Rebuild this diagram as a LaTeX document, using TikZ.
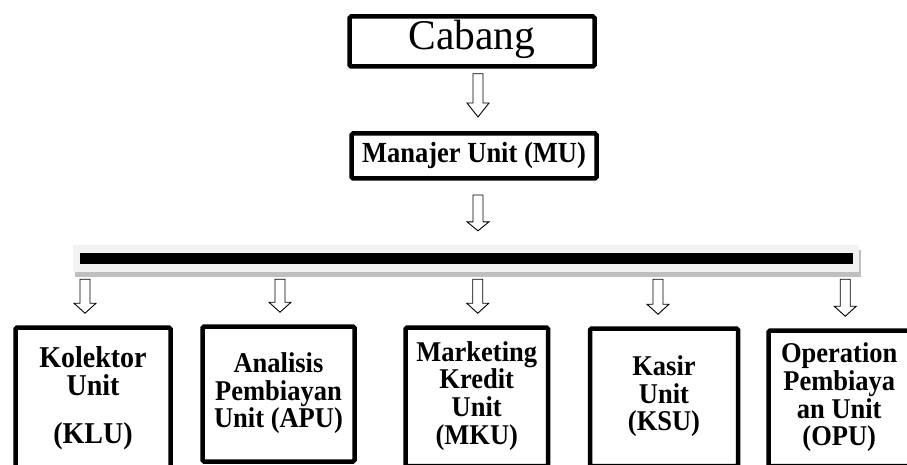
\documentclass[tikz,border=0pt]{standalone}
\usepackage{fontspec}
\usepackage{graphicx}
\setmainfont{Liberation Serif}
\usetikzlibrary{calc,shadows}
\newcommand\vstretch[2][1.08]{\scalebox{1}[#1]{\begin{tabular}{@{}c@{}}#2\end{tabular}}}
\tikzset{
  orgbox/.style={draw=black, line width=4.5pt, rounded corners=1.5pt, fill=white,
    inner sep=0pt, align=center, font=\bfseries\fontsize{26.5}{24}\selectfont},
  blockarrow/.style={draw=black, fill=white, line width=0.9pt, line join=miter,
    to path={let \p1=(\tikztostart), \p2=(\tikztotarget) in
      (\x1-5pt,\y1) -- (\x1+5pt,\y1) -- (\x1+5pt,\y2+#1) -- (\x1+11pt,\y2+#1)
      -- (\x1,\y2) -- (\x1-11pt,\y2+#1) -- (\x1-5pt,\y2+#1) -- cycle}},
  blockarrow/.default=11pt
}
\begin{document}
\begin{tikzpicture}[x=1pt,y=-1pt]
\useasboundingbox (0,0) rectangle (907,465);
\fill[white] (0,0) rectangle (907,465);
\clip (0,0) rectangle (907,465);

% top boxes
\node[orgbox, font=\fontsize{41.5}{41.5}\selectfont, minimum width=245pt, minimum height=50pt]
  (cab) at (472,41.5) {\vstretch[1.02]{Cabang}};
\node[orgbox, minimum width=245pt, minimum height=45pt]
  (mu) at (474,156) {\vstretch[1.1]{Manajer Unit (MU)}};

% bar
\node[fill=gray!10, minimum width=786pt, minimum height=27pt, inner sep=0pt,
  drop shadow={shadow xshift=2pt, shadow yshift=-5pt, fill=gray!50, opacity=1}]
  (bar) at (466,258.5) {};
\node[fill=black, minimum width=773pt, minimum height=11pt, inner sep=0pt]
  (barin) at (bar.center) {};

% bottom boxes
\node[orgbox, font=\bfseries\fontsize{28}{23.5}\selectfont, minimum width=155pt, minimum height=142.5pt] (k1) at (93,398.75)
  {\raisebox{-3.5pt}{\vstretch{Kolektor\\Unit\\[17.5pt](KLU)}}};
\node[orgbox, minimum width=152pt, minimum height=135pt] (k2) at (278.5,394)
  {\vstretch{Analisis\\Pembiayan\\Unit (APU)}};
\node[orgbox, minimum width=142.5pt, minimum height=138.5pt] (k3) at (476.75,396.75)
  {\vstretch{Marketing\\Kredit\\Unit\\(MKU)}};
\node[orgbox, minimum width=148pt, minimum height=137.5pt] (k4) at (664,397.25)
  {\vstretch{Kasir\\Unit\\(KSU)}};
\node[orgbox, minimum width=141.5pt, minimum height=135.5pt] (k5) at (839.25,398.25)
  {\vstretch{Operation\\Pembiaya\\an Unit\\(OPU)}};

% block arrows
\draw[blockarrow=14pt] ([xshift=6pt,yshift=-5pt]cab.south) to ([xshift=6pt,yshift=14.25pt]mu.north);
\draw[blockarrow=9pt] ([xshift=4pt,yshift=-14.25pt]mu.south) to ([yshift=14pt]bar.north);
\draw[blockarrow=10pt] ([xshift=-8pt,yshift=-7pt]bar.south -| k1.north) to ([yshift=12pt]k1.north);
\draw[blockarrow=10pt] ([xshift=1.5pt,yshift=-7pt]bar.south -| k2.north) to ([yshift=12pt]k2.north);
\draw[blockarrow=10pt] ([xshift=1pt,yshift=-7pt]bar.south -| k3.north) to ([yshift=12pt]k3.north);
\draw[blockarrow=10pt] ([xshift=-6pt,yshift=-7pt]bar.south -| k4.north) to ([yshift=12pt]k4.north);
\draw[blockarrow=10pt] ([xshift=6pt,yshift=-7pt]bar.south -| k5.north) to ([yshift=12pt]k5.north);
\end{tikzpicture}
\end{document}
